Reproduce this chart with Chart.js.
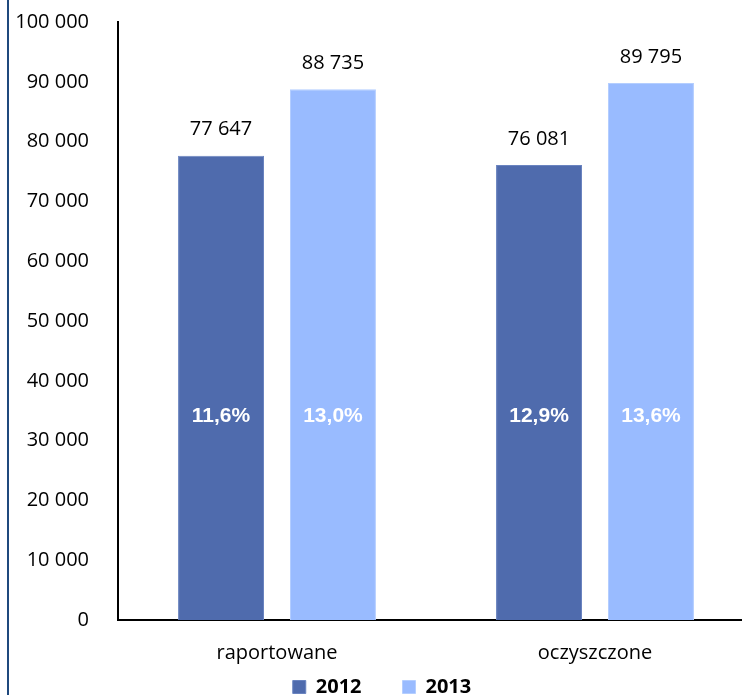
<!DOCTYPE html>
<html>
<head>
<meta charset="utf-8">
<script src="https://cdn.jsdelivr.net/npm/chart.js@4"></script>
<style>
  html, body { margin: 0; padding: 0; background: #fff; }
  #frame { position: relative; width: 742px; height: 695px; overflow: hidden; }
  #wrap { position: absolute; left: 0; top: 0; width: 760px; height: 695px; }
  #edge { position: absolute; left: 7px; top: 0; width: 2px; height: 695px; background: #1f497d; }
</style>
</head>
<body>
<div id="frame">
  <div id="wrap"><canvas id="chart"></canvas></div>
  <div id="edge"></div>
</div>
<script>
// dane
const categories = ['raportowane', 'oczyszczone'];
const seriesNames = ['2012', '2013'];
const values2012 = [77647, 76081];
const values2013 = [88735, 89795];
const share2012 = [11.6, 12.9];
const share2013 = [13.0, 13.6];

const fmt = v => String(v).replace(/\B(?=(\d{3})+(?!\d))/g, ' ');
const fmtPct = v => v.toFixed(1).replace('.', ',') + '%';

// etykiety nad słupkami i procenty w środku
const barLabels = {
    id: 'barLabels',
    afterDatasetsDraw(chart) {
        const ctx = chart.ctx;
        const y = chart.scales.y;
        const shares = [share2012, share2013];
        ctx.save();
        ctx.textAlign = 'center';
        ctx.textBaseline = 'middle';
        chart.data.datasets.forEach((ds, i) => {
            chart.getDatasetMeta(i).data.forEach((bar, j) => {
                ctx.fillStyle = '#000';
                ctx.font = '20px "Open Sans"';
                ctx.fillText(fmt(ds.data[j]), bar.x, bar.y - 26);
                ctx.fillStyle = '#fff';
                ctx.font = 'bold 21px "Liberation Sans"';
                ctx.fillText(fmtPct(shares[i][j]), bar.x, y.getPixelForValue(34100));
            });
        });
        ctx.restore();
    }
};

// legenda zachodzi na obszar osi X, jak w oryginale
const legendShift = {
    id: 'legendShift',
    afterLayout(chart) {
        const lg = chart.legend;
        lg.top = lg.bottom - 59;
        lg.height = 59;
        lg.left += 5; lg.right += 5;
    }
};

new Chart(document.getElementById('chart'), {
    type: 'bar',
    data: {
        labels: categories,
        datasets: [{
            label: seriesNames[0],
            data: values2012,
            backgroundColor: '#4f6bad',
            borderColor: '#6a84c0',
            borderWidth: 1
        }, {
            label: seriesNames[1],
            data: values2013,
            backgroundColor: '#99bbff',
            borderColor: '#b4ceff',
            borderWidth: 1
        }]
    },
    options: {
        responsive: true,
        maintainAspectRatio: false,
        animation: false,
        categoryPercentage: 0.704,
        barPercentage: 0.768,
        layout: { padding: { top: 22, right: 6, left: 0, bottom: 0 } },
        plugins: {
            tooltip: { enabled: false },
            legend: {
                position: 'bottom',
                maxHeight: 31,
                labels: {
                    boxWidth: 13,
                    boxHeight: 13,
                    padding: 41,
                    color: '#000',
                    font: { family: 'Open Sans', size: 20, weight: 'bold' }
                }
            }
        },
        scales: {
            x: {
                grid: { display: false, drawTicks: false },
                border: { display: true, color: '#000', width: 2 },
                ticks: { color: '#000', padding: 21, font: { family: 'Open Sans', size: 20 } },
                afterFit: s => { s.height = 44; }
            },
            y: {
                min: 0,
                max: 100000,
                grid: { display: false, drawTicks: false },
                border: { display: true, color: '#000', width: 2 },
                ticks: {
                    stepSize: 10000,
                    color: '#000',
                    padding: 29,
                    font: { family: 'Open Sans', size: 20 },
                    callback: v => fmt(v)
                },
                afterFit: s => { s.width = 118; s.paddingTop = 0; s.paddingBottom = 0; }
            }
        }
    },
    plugins: [barLabels, legendShift]
});
</script>
</body>
</html>
